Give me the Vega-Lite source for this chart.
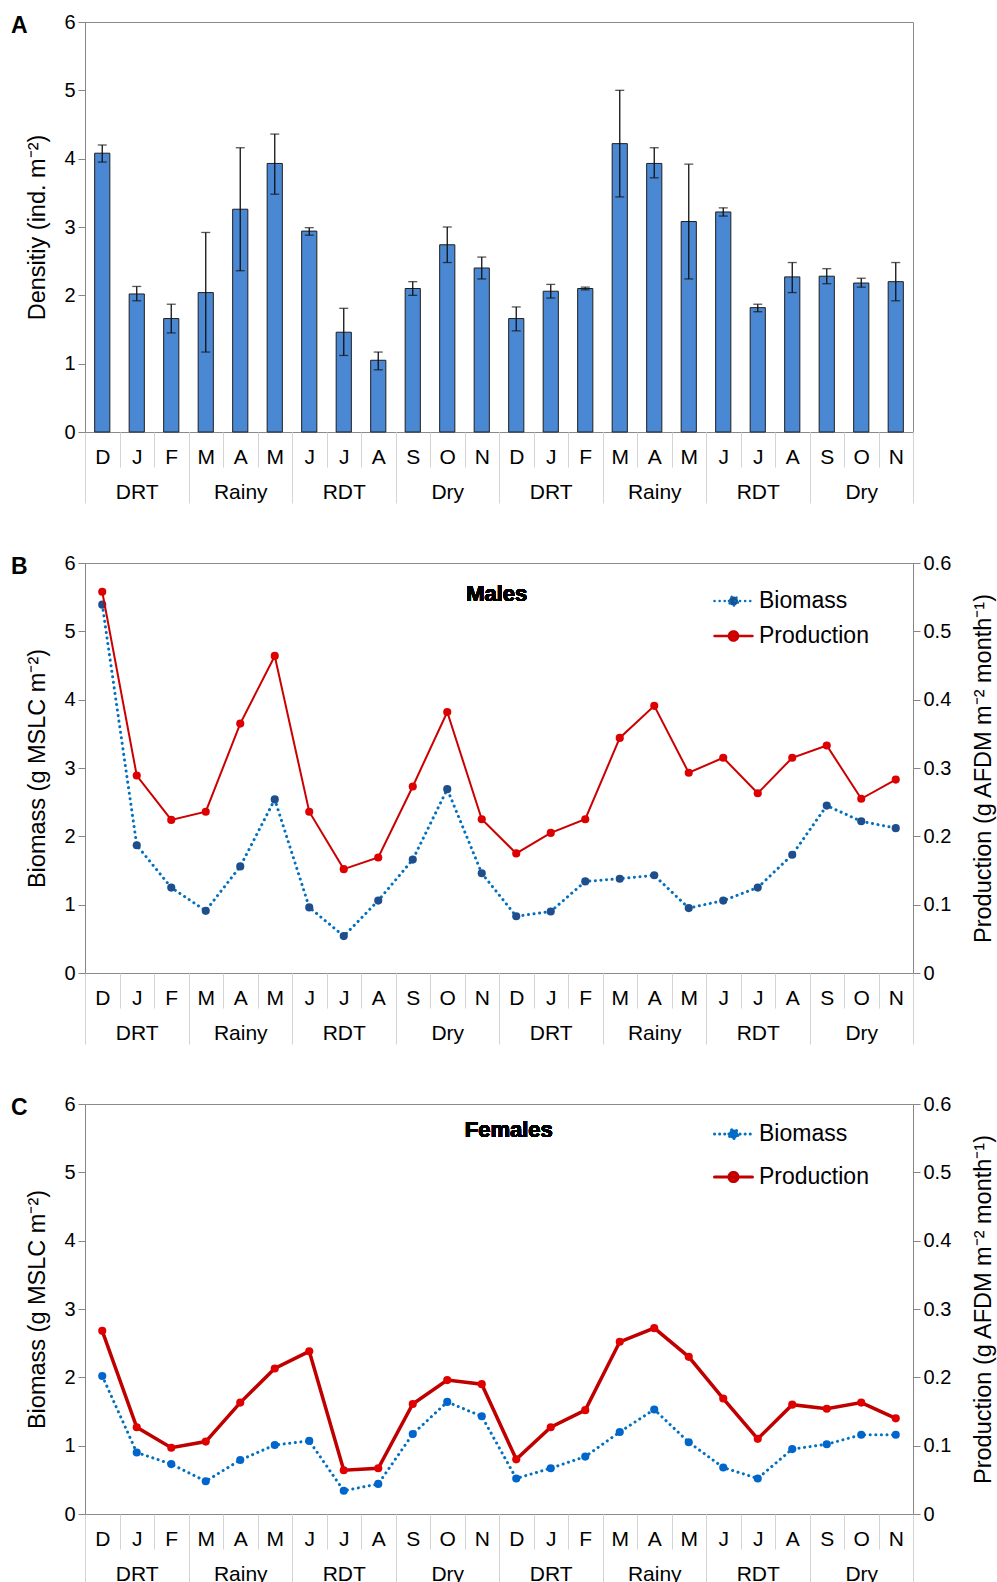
{
  "$schema": "https://vega.github.io/schema/vega-lite/v6.json",
  "padding": {"top": 11, "left": 10, "right": 2, "bottom": 0},
  "spacing": 48,
  "background": "white",
  "config": {
    "font": "Liberation Sans",
    "view": {"stroke": "#8a8a8a", "strokeWidth": 1},
    "axis": {"labelFont": "Liberation Sans", "labelFontSize": 20, "labelColor": "#000", "titleFont": "Liberation Sans", "titleFontSize": 23.5, "titleFontWeight": "normal", "titleColor": "#000", "grid": false, "domainColor": "#868686", "tickColor": "#868686"},
    "title": {"font": "Liberation Sans", "fontSize": 23, "fontWeight": "bold", "color": "#000"}
  },
  "datasets": {
    "seasons": [{"g":0},{"g":1},{"g":2},{"g":3},{"g":4},{"g":5},{"g":6},{"g":7}],
    "density": [
      {"i":0,"d":4.08,"lo":3.95,"hi":4.20},{"i":1,"d":2.02,"lo":1.92,"hi":2.13},{"i":2,"d":1.66,"lo":1.45,"hi":1.87},
      {"i":3,"d":2.04,"lo":1.17,"hi":2.92},{"i":4,"d":3.26,"lo":2.36,"hi":4.16},{"i":5,"d":3.93,"lo":3.48,"hi":4.36},
      {"i":6,"d":2.94,"lo":2.88,"hi":2.99},{"i":7,"d":1.46,"lo":1.12,"hi":1.81},{"i":8,"d":1.05,"lo":0.91,"hi":1.17},
      {"i":9,"d":2.10,"lo":2.00,"hi":2.20},{"i":10,"d":2.74,"lo":2.48,"hi":3.00},{"i":11,"d":2.40,"lo":2.24,"hi":2.56},
      {"i":12,"d":1.66,"lo":1.48,"hi":1.83},{"i":13,"d":2.06,"lo":1.96,"hi":2.16},{"i":14,"d":2.10,"lo":2.08,"hi":2.12},
      {"i":15,"d":4.22,"lo":3.44,"hi":5.00},{"i":16,"d":3.93,"lo":3.72,"hi":4.16},{"i":17,"d":3.08,"lo":2.24,"hi":3.92},
      {"i":18,"d":3.22,"lo":3.16,"hi":3.28},{"i":19,"d":1.82,"lo":1.76,"hi":1.87},{"i":20,"d":2.27,"lo":2.04,"hi":2.48},
      {"i":21,"d":2.28,"lo":2.17,"hi":2.39},{"i":22,"d":2.18,"lo":2.12,"hi":2.25},{"i":23,"d":2.20,"lo":1.92,"hi":2.48}
    ],
    "males": [
      {"i":0,"b":5.39,"p":0.558},{"i":1,"b":1.87,"p":0.289},{"i":2,"b":1.25,"p":0.224},{"i":3,"b":0.91,"p":0.236},
      {"i":4,"b":1.56,"p":0.365},{"i":5,"b":2.54,"p":0.464},{"i":6,"b":0.96,"p":0.236},{"i":7,"b":0.54,"p":0.152},
      {"i":8,"b":1.06,"p":0.169},{"i":9,"b":1.66,"p":0.273},{"i":10,"b":2.69,"p":0.382},{"i":11,"b":1.46,"p":0.225},
      {"i":12,"b":0.83,"p":0.175},{"i":13,"b":0.90,"p":0.205},{"i":14,"b":1.34,"p":0.225},{"i":15,"b":1.38,"p":0.344},
      {"i":16,"b":1.43,"p":0.391},{"i":17,"b":0.95,"p":0.293},{"i":18,"b":1.06,"p":0.315},{"i":19,"b":1.25,"p":0.263},
      {"i":20,"b":1.73,"p":0.315},{"i":21,"b":2.45,"p":0.333},{"i":22,"b":2.22,"p":0.255},{"i":23,"b":2.12,"p":0.283}
    ],
    "females": [
      {"i":0,"b":2.02,"p":0.268},{"i":1,"b":0.90,"p":0.127},{"i":2,"b":0.73,"p":0.097},{"i":3,"b":0.48,"p":0.106},
      {"i":4,"b":0.79,"p":0.163},{"i":5,"b":1.01,"p":0.213},{"i":6,"b":1.07,"p":0.238},{"i":7,"b":0.34,"p":0.064},
      {"i":8,"b":0.44,"p":0.067},{"i":9,"b":1.17,"p":0.161},{"i":10,"b":1.64,"p":0.196},{"i":11,"b":1.43,"p":0.190},
      {"i":12,"b":0.52,"p":0.080},{"i":13,"b":0.67,"p":0.127},{"i":14,"b":0.84,"p":0.152},{"i":15,"b":1.20,"p":0.252},
      {"i":16,"b":1.53,"p":0.272},{"i":17,"b":1.05,"p":0.230},{"i":18,"b":0.68,"p":0.169},{"i":19,"b":0.52,"p":0.110},
      {"i":20,"b":0.95,"p":0.160},{"i":21,"b":1.02,"p":0.154},{"i":22,"b":1.16,"p":0.163},{"i":23,"b":1.16,"p":0.140}
    ]
  },
  "resolve": {"scale": {"color": "independent"}, "legend": {"color": "independent"}},
  "vconcat": [
    {
      "title": {"text": "A", "anchor": "start", "frame": "bounds", "dx": -15, "dy": 26, "offset": 0},
      "width": 828, "height": 410,
      "layer": [
        {
          "data": {"name": "seasons"},
          "mark": {"type": "text", "opacity": 0},
          "encoding": {
            "x": {"field": "g", "type": "ordinal", "scale": {"paddingInner": 0, "paddingOuter": 0},
                  "axis": {"orient": "bottom", "title": null, "tickBand": "extent", "tickSize": 71, "tickColor": "#d4d4d4", "domain": false, "labelAngle": 0, "labelFontSize": 21, "labelPadding": -22, "labelOverlap": false, "labelExpr": "['DRT','Rainy','RDT','Dry'][datum.value % 4]"}},
            "text": {"value": ""}
          }
        },
        {
          "data": {"name": "density"},
          "layer": [
            {
              "mark": {"type": "bar", "width": {"band": 0.44}, "fill": "#4a88d4", "stroke": "#1e1e1e", "strokeWidth": 1},
              "encoding": {
                "x": {"field": "i", "type": "ordinal", "scale": {"paddingInner": 0, "paddingOuter": 0},
                      "axis": {"orient": "bottom", "title": null, "tickBand": "extent", "tickSize": 35, "tickColor": "#d4d4d4", "domain": false, "labelAngle": 0, "labelFontSize": 21, "labelPadding": -21, "labelOverlap": false, "labelExpr": "['D','J','F','M','A','M','J','J','A','S','O','N'][datum.value % 12]"}},
                "y": {"field": "d", "type": "quantitative", "scale": {"domain": [0, 6]}, "title": "Densitiy (ind. m⁻²)",
                      "axis": {"values": [0,1,2,3,4,5,6], "format": "d", "tickSize": 7, "labelPadding": 3, "titlePadding": 14}}
              }
            },
            {
              "mark": {"type": "rule", "color": "#111", "strokeWidth": 1.3},
              "encoding": {
                "x": {"field": "i", "type": "ordinal"},
                "y": {"field": "lo", "type": "quantitative", "title": "Densitiy (ind. m⁻²)"},
                "y2": {"field": "hi"}
              }
            },
            {
              "mark": {"type": "tick", "orient": "horizontal", "size": 9, "thickness": 1.3, "color": "#111"},
              "encoding": {
                "x": {"field": "i", "type": "ordinal"},
                "y": {"field": "lo", "type": "quantitative", "title": "Densitiy (ind. m⁻²)"}
              }
            },
            {
              "mark": {"type": "tick", "orient": "horizontal", "size": 9, "thickness": 1.3, "color": "#111"},
              "encoding": {
                "x": {"field": "i", "type": "ordinal"},
                "y": {"field": "hi", "type": "quantitative", "title": "Densitiy (ind. m⁻²)"}
              }
            }
          ]
        }
      ],
      "resolve": {"scale": {"x": "independent"}}
    },
    {
      "title": {"text": "B", "anchor": "start", "frame": "bounds", "dx": -15, "dy": 26, "offset": 0},
      "width": 828, "height": 410,
      "layer": [
        {
          "data": {"name": "seasons"},
          "mark": {"type": "text", "opacity": 0},
          "encoding": {
            "x": {"field": "g", "type": "ordinal", "scale": {"paddingInner": 0, "paddingOuter": 0},
                  "axis": {"orient": "bottom", "title": null, "tickBand": "extent", "tickSize": 71, "tickColor": "#d4d4d4", "domain": false, "labelAngle": 0, "labelFontSize": 21, "labelPadding": -22, "labelOverlap": false, "labelExpr": "['DRT','Rainy','RDT','Dry'][datum.value % 4]"}},
            "text": {"value": ""}
          }
        },
        {
          "data": {"name": "males"},
          "layer": [
            {
              "layer": [
                {
                  "mark": {"type": "line", "strokeWidth": 3, "strokeDash": [0.1, 5.5], "strokeCap": "round"},
                  "encoding": {
                    "x": {"field": "i", "type": "ordinal", "scale": {"paddingInner": 0, "paddingOuter": 0},
                          "axis": {"orient": "bottom", "title": null, "tickBand": "extent", "tickSize": 35, "tickColor": "#d4d4d4", "domain": false, "labelAngle": 0, "labelFontSize": 21, "labelPadding": -21, "labelOverlap": false, "labelExpr": "['D','J','F','M','A','M','J','J','A','S','O','N'][datum.value % 12]"}},
                    "y": {"field": "b", "type": "quantitative", "scale": {"domain": [0, 6]}, "title": "Biomass  (g MSLC m⁻²)",
                          "axis": {"values": [0,1,2,3,4,5,6], "format": "d", "tickSize": 7, "labelPadding": 3, "titlePadding": 14}},
                    "color": {"datum": "Biomass", "scale": {"domain": ["Biomass", "Production"], "range": ["#0070c0", "#cc0000"]},
                              "legend": {"orient": "none", "legendX": 628, "legendY": 22, "title": null, "padding": 0, "labelFontSize": 23, "labelFont": "Liberation Sans", "labelColor": "#000", "labelOffset": 5, "symbolType": "M-1,0H1M-0.24,0A0.24,0.24,0,1,1,0.24,0A0.24,0.24,0,1,1,-0.24,0Z", "symbolSize": 1444, "symbolStrokeWidth": 2.5, "clipHeight": 32, "rowPadding": 3,
                                         "encode": {"symbols": {"update": {"fill": {"signal": "datum.value === 'Biomass' ? '#1f4e8c' : '#dd0000'"}, "strokeDash": {"signal": "datum.value === 'Biomass' ? [0.1, 5] : [1, 0]"}, "strokeCap": {"value": "round"}}}}}}
                  }
                },
                {
                  "mark": {"type": "point", "filled": true, "size": 66, "color": "#1f4e8c", "opacity": 1},
                  "encoding": {
                    "x": {"field": "i", "type": "ordinal"},
                    "y": {"field": "b", "type": "quantitative", "title": "Biomass  (g MSLC m⁻²)"}
                  }
                },
                {
                  "mark": {"type": "text", "fontSize": 22, "fontWeight": "bold", "dx": 15, "color": "#000"},
                  "encoding": {
                    "x": {"datum": 11, "type": "ordinal"},
                    "y": {"datum": 5.55, "type": "quantitative"},
                    "text": {"value": "Males"}
                  }
                }
              ]
            },
            {
              "layer": [
                {
                  "mark": {"type": "line", "strokeWidth": 2},
                  "encoding": {
                    "x": {"field": "i", "type": "ordinal"},
                    "y": {"field": "p", "type": "quantitative", "scale": {"domain": [0, 0.6]}, "title": "Production  (g AFDM m⁻² month⁻¹)",
                          "axis": {"orient": "right", "values": [0,0.1,0.2,0.3,0.4,0.5,0.6], "format": ".1~f", "tickSize": 7, "labelPadding": 3, "titlePadding": 21, "titleAngle": 270, "titleBaseline": "top"}},
                    "color": {"datum": "Production"}
                  }
                },
                {
                  "mark": {"type": "point", "filled": true, "size": 66, "color": "#dd0000", "opacity": 1},
                  "encoding": {
                    "x": {"field": "i", "type": "ordinal"},
                    "y": {"field": "p", "type": "quantitative", "title": "Production  (g AFDM m⁻² month⁻¹)"}
                  }
                }
              ]
            }
          ],
          "resolve": {"scale": {"y": "independent"}}
        }
      ],
      "resolve": {"scale": {"x": "independent"}}
    },
    {
      "title": {"text": "C", "anchor": "start", "frame": "bounds", "dx": -15, "dy": 26, "offset": 0},
      "width": 828, "height": 410,
      "layer": [
        {
          "data": {"name": "seasons"},
          "mark": {"type": "text", "opacity": 0},
          "encoding": {
            "x": {"field": "g", "type": "ordinal", "scale": {"paddingInner": 0, "paddingOuter": 0},
                  "axis": {"orient": "bottom", "title": null, "tickBand": "extent", "tickSize": 71, "tickColor": "#d4d4d4", "domain": false, "labelAngle": 0, "labelFontSize": 21, "labelPadding": -22, "labelOverlap": false, "labelExpr": "['DRT','Rainy','RDT','Dry'][datum.value % 4]"}},
            "text": {"value": ""}
          }
        },
        {
          "data": {"name": "females"},
          "layer": [
            {
              "layer": [
                {
                  "mark": {"type": "line", "strokeWidth": 3, "strokeDash": [0.1, 5.5], "strokeCap": "round"},
                  "encoding": {
                    "x": {"field": "i", "type": "ordinal", "scale": {"paddingInner": 0, "paddingOuter": 0},
                          "axis": {"orient": "bottom", "title": null, "tickBand": "extent", "tickSize": 35, "tickColor": "#d4d4d4", "domain": false, "labelAngle": 0, "labelFontSize": 21, "labelPadding": -21, "labelOverlap": false, "labelExpr": "['D','J','F','M','A','M','J','J','A','S','O','N'][datum.value % 12]"}},
                    "y": {"field": "b", "type": "quantitative", "scale": {"domain": [0, 6]}, "title": "Biomass  (g MSLC m⁻²)",
                          "axis": {"values": [0,1,2,3,4,5,6], "format": "d", "tickSize": 7, "labelPadding": 3, "titlePadding": 14}},
                    "color": {"datum": "Biomass", "scale": {"domain": ["Biomass", "Production"], "range": ["#0070c0", "#c00000"]},
                              "legend": {"orient": "none", "legendX": 628, "legendY": 14, "title": null, "padding": 0, "labelFontSize": 23, "labelFont": "Liberation Sans", "labelColor": "#000", "labelOffset": 5, "symbolType": "M-1,0H1M-0.24,0A0.24,0.24,0,1,1,0.24,0A0.24,0.24,0,1,1,-0.24,0Z", "symbolSize": 1444, "symbolStrokeWidth": 3, "clipHeight": 32, "rowPadding": 11,
                                         "encode": {"symbols": {"update": {"fill": {"signal": "datum.value === 'Biomass' ? '#0066cc' : '#e00000'"}, "strokeDash": {"signal": "datum.value === 'Biomass' ? [0.1, 5] : [1, 0]"}, "strokeCap": {"value": "round"}}}}}}
                  }
                },
                {
                  "mark": {"type": "point", "filled": true, "size": 66, "color": "#0066cc", "opacity": 1},
                  "encoding": {
                    "x": {"field": "i", "type": "ordinal"},
                    "y": {"field": "b", "type": "quantitative", "title": "Biomass  (g MSLC m⁻²)"}
                  }
                },
                {
                  "mark": {"type": "text", "fontSize": 22, "fontWeight": "bold", "dx": 27, "color": "#000"},
                  "encoding": {
                    "x": {"datum": 11, "type": "ordinal"},
                    "y": {"datum": 5.62, "type": "quantitative"},
                    "text": {"value": "Females"}
                  }
                }
              ]
            },
            {
              "layer": [
                {
                  "mark": {"type": "line", "strokeWidth": 3.5},
                  "encoding": {
                    "x": {"field": "i", "type": "ordinal"},
                    "y": {"field": "p", "type": "quantitative", "scale": {"domain": [0, 0.6]}, "title": "Production  (g AFDM m⁻² month⁻¹)",
                          "axis": {"orient": "right", "values": [0,0.1,0.2,0.3,0.4,0.5,0.6], "format": ".1~f", "tickSize": 7, "labelPadding": 3, "titlePadding": 21, "titleAngle": 270, "titleBaseline": "top"}},
                    "color": {"datum": "Production"}
                  }
                },
                {
                  "mark": {"type": "point", "filled": true, "size": 66, "color": "#e00000", "opacity": 1},
                  "encoding": {
                    "x": {"field": "i", "type": "ordinal"},
                    "y": {"field": "p", "type": "quantitative", "title": "Production  (g AFDM m⁻² month⁻¹)"}
                  }
                }
              ]
            }
          ],
          "resolve": {"scale": {"y": "independent"}}
        }
      ],
      "resolve": {"scale": {"x": "independent"}}
    }
  ]
}
